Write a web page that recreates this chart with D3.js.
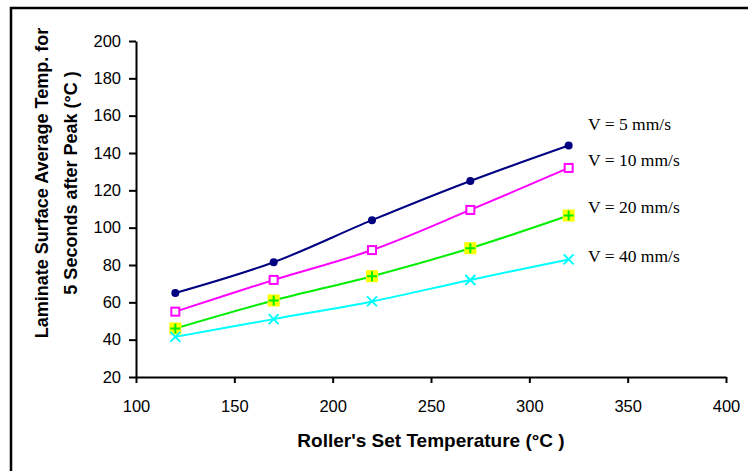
<!DOCTYPE html>
<html>
<head>
<meta charset="utf-8">
<script src="https://cdn.jsdelivr.net/npm/d3@7"></script>
<style>
  body { margin: 0; background: #fff; }
  svg { display: block; }
  .axis text { font-family: Arial, "Liberation Sans", sans-serif; font-size: 16.5px; fill: #000; }
  .axis path, .axis line { stroke: #000; stroke-width: 2; }
  .title { font-family: Arial, "Liberation Sans", sans-serif; font-weight: bold; }
  .legend { font-family: "Times New Roman", "Liberation Serif", serif; font-size: 17.5px; }
</style>
</head>
<body>
<div id="chart"></div>
<script>
// roller set temperature (°C)
const temps = [120, 170, 220, 270, 320];
// laminate surface average temp, 5 s after peak (°C)
const v5 = [65, 81.5, 104, 125, 144];
const v10 = [55, 72, 88, 109.5, 132];
const v20 = [46, 61, 74, 89, 106.5];
const v40 = [41.5, 51, 60.5, 72, 83];
const seriesNames = ["V = 5 mm/s", "V = 10 mm/s", "V = 20 mm/s", "V = 40 mm/s"];
const xTicks = [100, 150, 200, 250, 300, 350, 400];
const yTicks = [20, 40, 60, 80, 100, 120, 140, 160, 180, 200];

const width = 748, height = 471;
const margin = { top: 41, right: 22, bottom: 94, left: 136 };

const svg = d3.select("#chart").append("svg")
  .attr("width", width)
  .attr("height", height);

// outer frame (runs off the right and bottom edges)
svg.append("rect")
  .attr("x", 11).attr("y", 8)
  .attr("width", 800).attr("height", 500)
  .attr("fill", "none").attr("stroke", "#000").attr("stroke-width", 2.5);

const x = d3.scaleLinear().domain([100, 400]).range([margin.left, width - margin.right]);
const y = d3.scaleLinear().domain([20, 200]).range([height - margin.bottom, margin.top]);

svg.append("g")
  .attr("class", "axis")
  .attr("transform", "translate(0," + y(20) + ")")
  .call(d3.axisBottom(x).tickValues(xTicks).tickSize(6).tickPadding(17).tickSizeOuter(0));

svg.append("g")
  .attr("class", "axis")
  .attr("transform", "translate(" + x(100) + ",0)")
  .call(d3.axisLeft(y).tickValues(yTicks).tickSize(7).tickPadding(8).tickSizeOuter(0));

// axis titles
svg.append("text")
  .attr("class", "title")
  .style("font-size", "19px")
  .attr("x", (x(100) + x(400)) / 2)
  .attr("y", 447)
  .attr("text-anchor", "middle")
  .text("Roller's Set Temperature (°C )");

const yt = svg.append("text")
  .attr("class", "title")
  .style("font-size", "18px")
  .attr("transform", "translate(0,183) rotate(-90)")
  .attr("text-anchor", "middle");
yt.append("tspan").attr("x", 0).attr("y", 48).text("Laminate Surface Average Temp. for");
yt.append("tspan").attr("x", 0).attr("y", 77).text("5 Seconds after Peak (°C )");

const series = [
  { name: seriesNames[0], values: v5, color: "#000080", marker: "circle", ly: 130 },
  { name: seriesNames[1], values: v10, color: "#ff00ff", marker: "square", ly: 166 },
  { name: seriesNames[2], values: v20, color: "#00ee00", marker: "plus", ly: 213 },
  { name: seriesNames[3], values: v40, color: "#00ffff", marker: "cross", ly: 262 }
];

const line = d3.line()
  .x((d, i) => x(temps[i]))
  .y(d => y(d))
  .curve(d3.curveCatmullRom.alpha(0.5));

series.forEach(s => {
  svg.append("path")
    .datum(s.values)
    .attr("fill", "none")
    .attr("stroke", s.color)
    .attr("stroke-width", 2)
    .attr("d", line);

  const m = svg.append("g").selectAll("g")
    .data(s.values)
    .enter().append("g")
    .attr("transform", (d, i) => "translate(" + x(temps[i]) + "," + y(d) + ")");

  if (s.marker === "circle") {
    m.append("circle").attr("r", 4).attr("fill", s.color);
  } else if (s.marker === "square") {
    m.append("rect").attr("x", -4).attr("y", -4).attr("width", 8).attr("height", 8)
      .attr("fill", "#fff").attr("stroke", s.color).attr("stroke-width", 2);
  } else if (s.marker === "plus") {
    m.append("rect").attr("x", -6).attr("y", -6).attr("width", 12).attr("height", 12)
      .attr("fill", "#ffff00");
    m.append("path").attr("d", "M-5,0H5M0,-5V5")
      .attr("stroke", s.color).attr("stroke-width", 2);
  } else {
    m.append("path").attr("d", "M-5,-5L5,5M-5,5L5,-5")
      .attr("stroke", s.color).attr("stroke-width", 2);
  }

  svg.append("text")
    .attr("class", "legend")
    .attr("x", 588)
    .attr("y", s.ly)
    .text(s.name);
});
</script>
</body>
</html>
